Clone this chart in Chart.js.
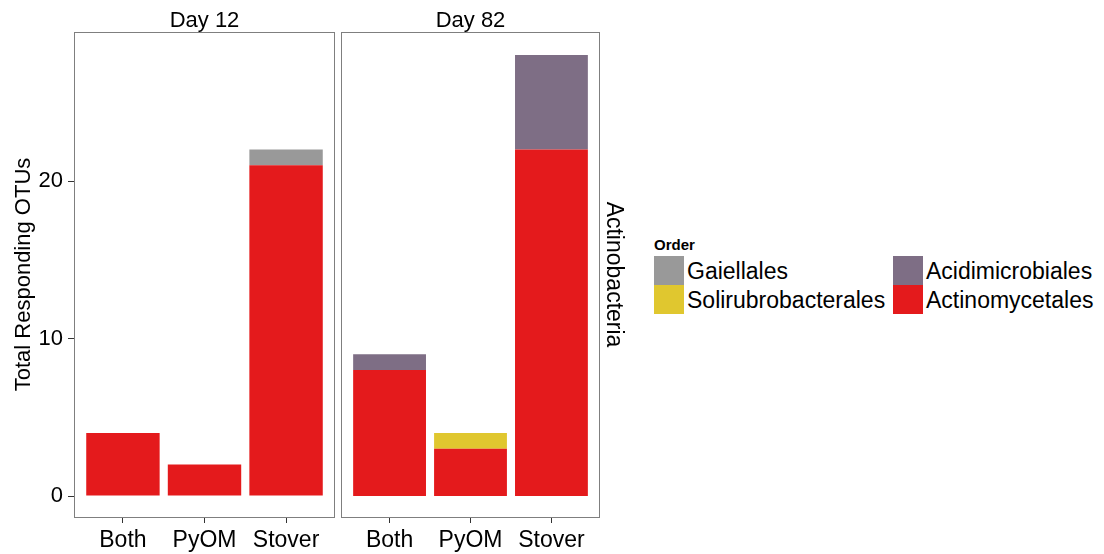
<!DOCTYPE html>
<html>
<head>
<meta charset="utf-8">
<script src="https://cdn.jsdelivr.net/npm/chart.js@4/dist/chart.umd.min.js"></script>
<style>
  html, body { margin: 0; padding: 0; background: #fff; }
  body { width: 1104px; height: 554px; position: relative; overflow: hidden; font-family: "Liberation Sans", Arial, sans-serif; }
  .cv { position: absolute; top: 0; height: 554px; }
  #legend { position: absolute; left: 0; top: 0; }
  .lg-title { position: absolute; left: 654px; top: 236px; font: bold 15px "Liberation Sans", Arial, sans-serif; color: #000; }
  .lg-sw { position: absolute; width: 30px; height: 29px; }
  .lg-tx { position: absolute; font: 23px "Liberation Sans", Arial, sans-serif; color: #000; line-height: 29px; white-space: nowrap; }
</style>
</head>
<body>
<div class="cv" style="left:0;width:338px;"><canvas id="c1"></canvas></div>
<div class="cv" style="left:337px;width:300px;"><canvas id="c2"></canvas></div>
<div id="legend"></div>
<script>
// ---- data ----
const categories = ['Both', 'PyOM', 'Stover'];
const panels = ['Day 12', 'Day 82'];
const orders = ['Actinomycetales', 'Acidimicrobiales', 'Solirubrobacterales', 'Gaiellales'];
const orderColors = ['#E41A1C', '#7E6E85', '#E0C72F', '#999999'];
// Day 12 counts per order (Both, PyOM, Stover)
const day12Actinomycetales = [4, 2, 21];
const day12Acidimicrobiales = [0, 0, 0];
const day12Solirubrobacterales = [0, 0, 0];
const day12Gaiellales = [0, 0, 1];
// Day 82 counts per order (Both, PyOM, Stover)
const day82Actinomycetales = [8, 3, 22];
const day82Acidimicrobiales = [1, 0, 6];
const day82Solirubrobacterales = [0, 1, 0];
const day82Gaiellales = [0, 0, 0];
const yTicks = [0, 10, 20];
const yAxisTitle = 'Total Responding OTUs';
const stripRight = 'Actinobacteria';
const legendTitle = 'Order';
const legendOrder = ['Gaiellales', 'Solirubrobacterales', 'Acidimicrobiales', 'Actinomycetales'];

const FONT = '"Liberation Sans", Arial, sans-serif';

function makeDatasets(seriesList) {
  return orders.map((name, i) => ({
    label: name,
    data: seriesList[i].map((v, j) => ({ x: j + 1, y: v === 0 ? null : v })),
    backgroundColor: orderColors[i],
    borderWidth: 0,
    stack: 's',
    barPercentage: 0.9,
    categoryPercentage: 1.0
  }));
}

const panelPlugin = {
  id: 'panelDeco',
  afterDraw(chart, args, opts) {
    const { ctx, chartArea: a } = chart;
    ctx.save();
    ctx.strokeStyle = '#7F7F7F';
    ctx.lineWidth = 1;
    ctx.strokeRect(Math.round(a.left) + 0.5, Math.round(a.top) + 0.5, Math.round(a.right - a.left) - 1, Math.round(a.bottom - a.top));
    ctx.fillStyle = '#000';
    ctx.font = '22px ' + FONT;
    ctx.textAlign = 'center';
    ctx.textBaseline = 'middle';
    ctx.fillText(opts.strip, (a.left + a.right) / 2, 21);
    if (opts.right) {
      ctx.translate(a.right + 13, (a.top + a.bottom) / 2);
      ctx.rotate(Math.PI / 2);
      ctx.font = '23px ' + FONT;
      ctx.fillText(opts.right, 0, 0);
    }
    ctx.restore();
  }
};

function makeChart(id, seriesList, strip, showY, padding, rightStrip) {
  return new Chart(document.getElementById(id), {
    type: 'bar',
    data: { datasets: makeDatasets(seriesList) },
    plugins: [panelPlugin],
    options: {
      responsive: true,
      maintainAspectRatio: false,
      animation: false,
      layout: { padding: padding },
      plugins: {
        legend: { display: false },
        tooltip: { enabled: false },
        panelDeco: { strip: strip, right: rightStrip }
      },
      scales: {
        x: {
          type: 'linear',
          min: 0.4,
          max: 3.6,
          offset: false,
          afterBuildTicks: s => { s.ticks = categories.map((c, i) => ({ value: i + 1 })); },
          afterFit: s => { s.height = 37; },
          ticks: {
            callback: (v) => categories[v - 1],
            color: '#000',
            font: { family: FONT, size: 23 },
            padding: 4,
            maxRotation: 0,
            autoSkip: false
          },
          grid: { display: true, drawOnChartArea: false, drawTicks: true, tickLength: 6, color: '#333', offset: false },
          border: { display: false }
        },
        y: {
          display: showY,
          stacked: true,
          min: -1.33,
          max: 29.46,
          afterBuildTicks: s => { s.ticks = yTicks.map(v => ({ value: v })); },
          afterFit: s => { if (showY) s.width = 74; },
          ticks: {
            color: '#000',
            font: { family: FONT, size: 22 },
            padding: 5
          },
          title: {
            display: true,
            text: yAxisTitle,
            color: '#000',
            font: { family: FONT, size: 22 },
            padding: { top: 11, bottom: 0 }
          },
          grid: { display: true, drawOnChartArea: false, drawTicks: true, tickLength: 6, color: '#333' },
          border: { display: false }
        }
      }
    }
  });
}

makeChart('c1', [day12Actinomycetales, day12Acidimicrobiales, day12Solirubrobacterales, day12Gaiellales],
  panels[0], true, { top: 32, right: 3, left: 0, bottom: 0 }, null);
makeChart('c2', [day82Actinomycetales, day82Acidimicrobiales, day82Solirubrobacterales, day82Gaiellales],
  panels[1], false, { top: 32, right: 37, left: 4, bottom: 0 }, stripRight);

// legend (HTML, built from arrays)
const lg = document.getElementById('legend');
const t = document.createElement('div');
t.className = 'lg-title'; t.textContent = legendTitle; lg.appendChild(t);
const colX = [654, 893];
legendOrder.forEach((name, k) => {
  const col = Math.floor(k / 2), row = k % 2;
  const top = 256 + row * 29;
  const sw = document.createElement('div');
  sw.className = 'lg-sw';
  sw.style.left = colX[col] + 'px'; sw.style.top = top + 'px';
  sw.style.background = orderColors[orders.indexOf(name)];
  lg.appendChild(sw);
  const tx = document.createElement('div');
  tx.className = 'lg-tx';
  tx.style.left = (colX[col] + 33) + 'px'; tx.style.top = (top + 1) + 'px';
  tx.textContent = name;
  lg.appendChild(tx);
});
</script>
</body>
</html>
